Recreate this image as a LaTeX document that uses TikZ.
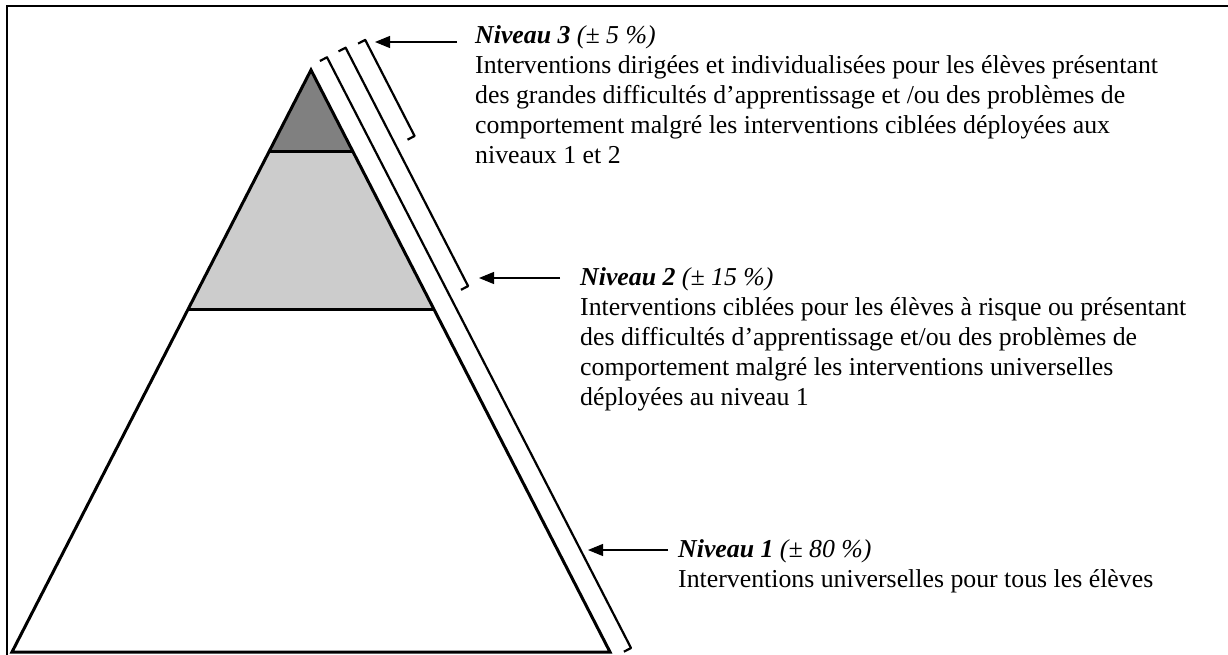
\documentclass[tikz,border=0pt]{standalone}
\usepackage{fontspec}
\setmainfont{Liberation Serif}
\usetikzlibrary{arrows.meta,calc}
\begin{document}
\begin{tikzpicture}[x=1pt,y=-1pt,
  frameline/.style={line width=2.6pt,black},
  pyr/.style={line width=3pt,line join=miter},
  brk/.style={line width=2.2pt,line join=round},
  ptr/.style={line width=1.1pt,-{Triangle[length=15pt,width=12pt]}},
  lbl/.style={anchor=base west,align=left,inner sep=0pt,font=\fontsize{25.8}{30}\selectfont}]
\useasboundingbox (0,0) rectangle (1228,655);
\fill[white] (0,0) rectangle (1228,655);
% frame
\coordinate (F1) at (7,655);
\coordinate (F2) at (7,6);
\coordinate (F3) at (1228,6);
\draw[frameline] (F1) -- (F2) -- (F3);
% pyramid
\coordinate (A) at (311,70);
\coordinate (BL) at (12,652);
\coordinate (BR) at (610,652);
\coordinate (T3L) at (269,152);
\coordinate (T3R) at (353,152);
\coordinate (T2L) at (188,309);
\coordinate (T2R) at (434,309);
\fill[black!50] (A) -- (T3L) -- (T3R) -- cycle;
\fill[black!20] (T3L) -- (T2L) -- (T2R) -- (T3R) -- cycle;
\draw[pyr] (T3L) -- (T3R);
\draw[pyr] (T2L) -- (T2R);
\draw[pyr] (A) -- (BL) -- (BR) -- cycle;
% brackets
\coordinate (B1s) at (327,57.3);
\coordinate (B1e) at (631,648);
\coordinate (B2s) at (345.6,47.7);
\coordinate (B2e) at (468.1,286.1);
\coordinate (B3s) at (365.2,39.9);
\coordinate (B3e) at (414.6,136.0);
\draw[brk] ($(B1s)+(-7.1,3.7)$) -- (B1s) -- (B1e) -- ($(B1e)+(-7.1,3.7)$);
\draw[brk] ($(B2s)+(-7.1,3.7)$) -- (B2s) -- (B2e) -- ($(B2e)+(-7.1,3.7)$);
\draw[brk] ($(B3s)+(-7.1,3.7)$) -- (B3s) -- (B3e) -- ($(B3e)+(-7.1,3.7)$);
% labels (anchor = baseline of the last line)
\node[lbl] (L3) at (475,163.5) {\textbf{\textit{Niveau 3}} \textit{(± 5 \%)}\\
Interventions dirigées et individualisées pour les élèves présentant\\
des grandes difficultés d’apprentissage et /ou des problèmes de\\
comportement malgré les interventions ciblées déployées aux\\
niveaux 1 et 2};
\node[lbl] (L2) at (580,405) {\textbf{\textit{Niveau 2}} \textit{(± 15 \%)}\\
Interventions ciblées pour les élèves à risque ou présentant\\
des difficultés d’apprentissage et/ou des problèmes de\\
comportement malgré les interventions universelles\\
déployées au niveau 1};
\node[lbl] (L1) at (678,587) {\textbf{\textit{Niveau 1}} \textit{(± 80 \%)}\\
Interventions universelles pour tous les élèves};
% arrows
\coordinate (P3t) at (457,42);
\coordinate (P3h) at (375,42);
\coordinate (P2t) at (560,278);
\coordinate (P2h) at (479,278);
\coordinate (P1t) at (668,550);
\coordinate (P1h) at (588,550);
\draw[ptr] (P3t) -- (P3h);
\draw[ptr] (P2t) -- (P2h);
\draw[ptr] (P1t) -- (P1h);
\end{tikzpicture}
\end{document}
